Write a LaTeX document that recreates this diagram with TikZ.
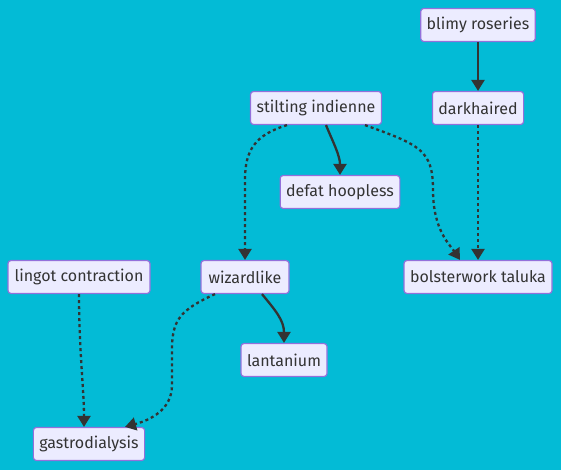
\documentclass[tikz,border=0pt]{standalone}
\usepackage{fontspec}
\setmainfont{Fira Sans}
\usetikzlibrary{arrows.meta}
\definecolor{bg}{HTML}{03BBD6}
\definecolor{nodefill}{HTML}{ECECFF}
\definecolor{nodeline}{HTML}{9370DB}
\definecolor{edge}{HTML}{333333}
\tikzset{
  box/.style={draw=nodeline, fill=nodefill, line width=1.2pt, rounded corners=3pt,
    minimum height=33pt, inner xsep=6pt, font=\fontsize{16}{18}\selectfont, text=edge},
  link/.style={draw=edge, line width=2.3pt, -{Triangle[length=11pt,width=13pt]}},
  dot/.style={link, dash pattern=on 3pt off 3pt},
}
\begin{document}
\begin{tikzpicture}[x=1pt,y=-1pt]
\fill[bg] (0,0) rectangle (561,470);
\useasboundingbox (0,0) rectangle (561,470);
\node[box, minimum width=114pt] (blimy) at (478,25) {blimy roseries};
\node[box, minimum width=91pt] (dark) at (478,108) {darkhaired};
\node[box, minimum width=131pt] (stilt) at (316,108) {stilting indienne};
\node[box, minimum width=119pt] (defat) at (340,192) {defat hoopless};
\node[box, minimum width=88pt] (wiz) at (245,277) {wizardlike};
\node[box, minimum width=142pt] (lingot) at (79,277) {lingot contraction};
\node[box, minimum width=148pt] (bolster) at (478,277) {bolsterwork taluka};
\node[box, minimum width=86pt] (lant) at (284,360) {lantanium};
\node[box, minimum width=111pt] (gastro) at (89,444) {gastrodialysis};

\draw[link] (blimy.south) -- (dark.north);
\draw[dot] (dark.south) -- (bolster.north);
\draw[link] ([xshift=10pt]stilt.south) .. controls (332,140) and (340,155) .. ([xshift=0pt]defat.north);
\draw[dot] ([xshift=-29pt]stilt.south) .. controls (255,135) and (245,150) .. (245,180) -- (wiz.north);
\draw[dot] ([xshift=49pt]stilt.south) .. controls (420,145) and (433,150) .. (433,190) .. controls (433,230) and (450,245) .. ([xshift=-18pt]bolster.north);
\draw[link] ([xshift=17pt]wiz.south) .. controls (275,310) and (284,320) .. (lant.north);
\draw[dot] ([xshift=-30pt]wiz.south) .. controls (180,310) and (172,320) .. (172,350) -- (172,385) .. controls (172,410) and (150,420) .. ([xshift=36pt]gastro.north);
\draw[dot] (lingot.south) .. controls (79,350) and (84,390) .. ([xshift=-5pt]gastro.north);
\end{tikzpicture}
\end{document}
